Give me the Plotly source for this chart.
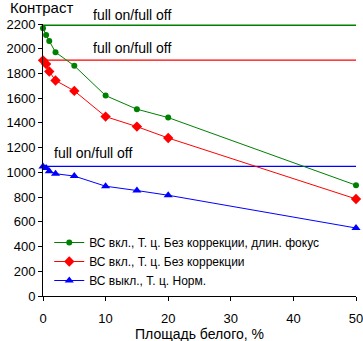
import plotly.graph_objects as go

x_vals = [0, 0.5, 1, 2, 5, 10, 15, 20, 50]
green_vals = [2165, 2112, 2062, 1972, 1862, 1621, 1511, 1443, 896]
red_vals = [1906, 1876, 1816, 1743, 1659, 1451, 1370, 1278, 785]
blue_x = [0, 0.5, 1, 2, 5, 10, 15, 20, 50]
blue_vals = [1048, 1035, 1010, 989, 970, 888, 853, 815, 550]

ref_x = [0, 50]
green_ref = 2190
red_ref = 1908
blue_ref = 1048

names = [
    "ВС вкл., Т. ц. Без коррекции, длин. фокус",
    "ВС вкл., Т. ц. Без коррекции",
    "ВС выкл., Т. ц. Норм.",
]
ref_label = "full on/full off"
x_title = "Площадь белого, %"
y_title = "Контраст"

GREEN = "#008000"
RED = "#FF0000"
BLUE = "#0000FF"
FONT = "Liberation Sans, Arial, sans-serif"

PLOT_H = 341 - 24 - 45

fig = go.Figure()
for val, col in [(green_ref, GREEN), (red_ref, RED), (blue_ref, BLUE)]:
    fig.add_trace(go.Scatter(x=ref_x, y=[val, val], mode="lines",
                             line=dict(color=col, width=1.3),
                             showlegend=False, hoverinfo="skip"))

fig.add_trace(go.Scatter(x=x_vals, y=green_vals, mode="lines+markers", name=names[0],
                         line=dict(color=GREEN, width=1),
                         marker=dict(symbol="circle", size=6, color=GREEN), cliponaxis=False))
fig.add_trace(go.Scatter(x=x_vals, y=red_vals, mode="lines+markers", name=names[1],
                         line=dict(color=RED, width=1),
                         marker=dict(symbol="diamond", size=8, color=RED), cliponaxis=False))
fig.add_trace(go.Scatter(x=blue_x, y=blue_vals, mode="lines+markers", name=names[2],
                         line=dict(color=BLUE, width=1),
                         marker=dict(symbol="triangle-up", size=8, color=BLUE), cliponaxis=False))


def px_to_paper_y(py):
    return (296 - py) / PLOT_H


def px_to_paper_x(px):
    return (px - 43) / (363 - 43 - 7)


for cx, cy in [(132, 15), (132, 48), (93, 153)]:
    fig.add_annotation(x=px_to_paper_x(cx), y=px_to_paper_y(cy), xref="paper", yref="paper",
                       text=ref_label, showarrow=False, xanchor="center", yanchor="middle",
                       font=dict(family=FONT, size=14, color="black"))

fig.add_annotation(x=px_to_paper_x(8), y=px_to_paper_y(7), xref="paper", yref="paper",
                   text=y_title, showarrow=False,
                   font=dict(family=FONT, size=15, color="black"),
                   xanchor="left", yanchor="middle")

fig.add_annotation(x=px_to_paper_x(199), y=px_to_paper_y(334), xref="paper", yref="paper",
                   text=x_title, showarrow=False,
                   font=dict(family=FONT, size=14, color="black"),
                   xanchor="center", yanchor="middle")

fig.update_layout(
    width=363, height=341,
    margin=dict(l=43, r=7, t=24, b=45, autoexpand=False),
    paper_bgcolor="white", plot_bgcolor="white",
    font=dict(family=FONT, size=13, color="black"),
    legend=dict(x=0.02, y=0.25, xanchor="left", yanchor="top",
                font=dict(family=FONT, size=12, color="black"),
                bgcolor="rgba(0,0,0,0)", itemwidth=30, tracegroupgap=0),
    xaxis=dict(range=[-0.0001, 50.0001], tickvals=[0, 10, 20, 30, 40, 50], showgrid=False,
               zeroline=False, showline=True, linecolor="black", linewidth=1,
               ticks="outside", ticklen=4, tickcolor="black", ticklabelstandoff=6,
               ticklabeloverflow="allow", automargin=False),
    yaxis=dict(range=[0, 2200], tickvals=list(range(0, 2201, 200)), showgrid=False, zeroline=False,
               showline=True, linecolor="black", linewidth=1, ticks="outside", ticklen=4,
               tickcolor="black", automargin=False),
)

fig.write_html("out.html")
